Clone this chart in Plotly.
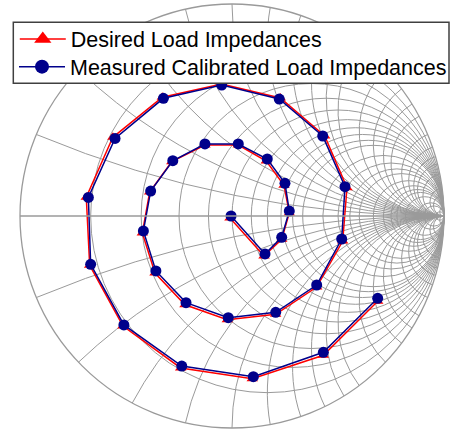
import plotly.graph_objects as go

# Normalized load impedances z = r + jx
desired_r = [0.981,1.245,1.560,1.740,1.556,1.177,0.842,0.630,0.498,0.431,0.401,0.412,0.465,0.592,0.878,1.540,2.945,3.028,1.452,0.704,0.410,0.278,0.212,0.182,0.174,0.182,0.208,0.286,0.506,1.408]
desired_x = [-0.019,-0.499,-0.367,0.053,0.490,0.674,0.636,0.484,0.299,0.117,-0.079,-0.279,-0.502,-0.762,-1.097,-1.417,-0.974,1.175,1.644,1.229,0.837,0.539,0.288,0.062,-0.163,-0.405,-0.697,-1.091,-1.739,-3.099]
measured_r = [0.991,1.267,1.568,1.738,1.558,1.173,0.836,0.626,0.501,0.435,0.407,0.420,0.477,0.608,0.898,1.574,2.945,2.938,1.436,0.711,0.416,0.285,0.221,0.189,0.178,0.187,0.218,0.300,0.544,1.517]
measured_x = [0.000,-0.481,-0.337,0.088,0.526,0.701,0.643,0.490,0.306,0.122,-0.070,-0.271,-0.496,-0.758,-1.086,-1.395,-0.887,1.165,1.607,1.215,0.834,0.539,0.288,0.062,-0.161,-0.404,-0.697,-1.096,-1.744,-3.124]
grid_vals = [0.2,0.4,0.6,0.8,1,1.2,1.4,1.6,1.8,2,2.5,3,3.5,4,5,6,7,8,10,15,20,50]
names = ["Desired Load Impedances", "Measured Calibrated Load Impedances"]

RED, BLUE, GRID = "#ff0000", "#00008B", "#9a9a9a"
fig = go.Figure()
fig.add_trace(go.Scattersmith(real=desired_r, imag=desired_x, mode="lines+markers", name=names[0],
    showlegend=False, line=dict(color=RED, width=1.5),
    marker=dict(symbol="triangle-up", size=10, color=RED)))
fig.add_trace(go.Scattersmith(real=measured_r, imag=measured_x, mode="lines+markers", name=names[1],
    showlegend=False, line=dict(color=BLUE, width=1.5),
    marker=dict(symbol="circle", size=11, color=BLUE)))
# legend entries (larger legend symbols, as in the reference)
fig.add_trace(go.Scattersmith(real=[None], imag=[None], mode="lines+markers", name=names[0], legend="legend",
    line=dict(color=RED, width=1.5), marker=dict(symbol="triangle-up", size=15, color=RED)))
fig.add_trace(go.Scattersmith(real=[None], imag=[None], mode="lines+markers", name=names[1], legend="legend2",
    line=dict(color=BLUE, width=1.5), marker=dict(symbol="circle", size=14, color=BLUE)))

leg_font = dict(family="Liberation Sans, Arial", size=21.5, color="black")
leg_common = dict(xanchor="left", yanchor="top", bgcolor="rgba(0,0,0,0)", borderwidth=0,
                  font=leg_font, itemwidth=46)
fig.update_layout(width=452, height=432, margin=dict(l=20, r=8, t=4, b=4), paper_bgcolor="white",
    smith=dict(bgcolor="white",
        realaxis=dict(tickvals=grid_vals, showticklabels=False, ticks="", gridcolor=GRID,
                      gridwidth=1.3, linecolor=GRID, linewidth=1.3),
        imaginaryaxis=dict(tickvals=grid_vals + [-v for v in grid_vals], showticklabels=False, ticks="",
                           gridcolor=GRID, gridwidth=1.3, linecolor=GRID, linewidth=1.3)),
    legend=dict(x=-0.0123, y=0.9658, **leg_common),
    legend2=dict(x=-0.0123, y=0.9005, **leg_common),
    shapes=[dict(type="rect", xref="paper", yref="paper", x0=-0.0158, x1=1.0118, y0=0.8130, y1=0.9568,
                 fillcolor="white", line=dict(color="#404040", width=1.5), layer="above")])
fig.write_html("out.html")
